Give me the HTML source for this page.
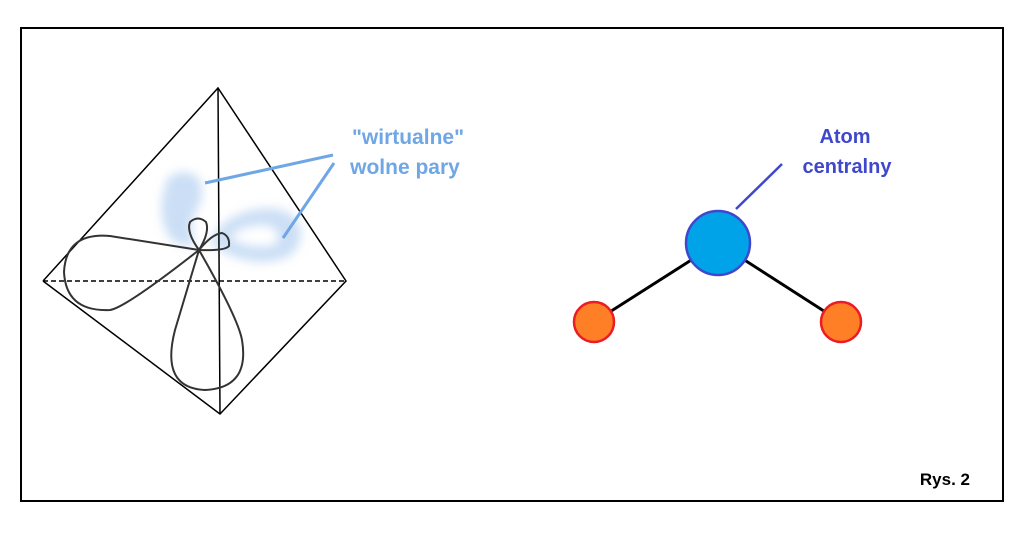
<!DOCTYPE html>
<html><head><meta charset="utf-8"><style>
html,body{margin:0;padding:0;background:#fff;}
svg{display:block;}
text{font-family:"Liberation Sans","DejaVu Sans",sans-serif;font-weight:bold;}
</style></head><body>
<svg width="1024" height="542" viewBox="0 0 1024 542" xmlns="http://www.w3.org/2000/svg">
<defs>
<filter id="blur" x="-50%" y="-50%" width="200%" height="200%"><feGaussianBlur stdDeviation="5"/></filter>
</defs>
<rect x="21" y="28" width="982" height="473" fill="#fff" stroke="#000" stroke-width="2"/>
<g filter="url(#blur)" fill="#a9c9ef" opacity="0.6">
<path d="M168 178 Q185 165 200 180 Q205 200 195 212 Q188 228 195 245 Q180 250 168 235 Q155 210 168 178 Z"/>
<path d="M210 242 Q225 210 270 208 Q305 212 300 240 Q295 262 260 262 Q230 260 210 242 Z M230 238 Q250 250 275 245 Q285 230 265 225 Q240 225 230 238 Z" fill-rule="evenodd"/>
</g>
<g stroke="#000" stroke-width="1.5" fill="none">
<polyline points="43,281 218,88 346,281 220,414 43,281"/>
<line x1="218" y1="88" x2="220" y2="414"/>
<line x1="43" y1="281" x2="346" y2="281" stroke-dasharray="5,3"/>
</g>
<g stroke="#333" stroke-width="2" fill="none">
<path d="M199 250 L110 236 Q66 232 64 272 Q66 312 110 310 Q125 308 199 250 Z"/>
<path d="M199 250 L175 330 Q160 388 205 390 Q250 388 242 340 Q238 318 199 250 Z"/>
<path d="M199 250 Q186 232 190 222 Q198 215 206 222 Q210 232 199 250 Z"/>
<path d="M199 250 Q212 234 222 233 Q230 236 229 246 Q225 251 199 250 Z"/>
</g>
<g stroke="#6fa6e6" stroke-width="3">
<line x1="205" y1="183" x2="333" y2="155"/>
<line x1="334" y1="163" x2="283" y2="238"/>
</g>
<text x="408" y="144" font-size="21" fill="#6fa6e6" text-anchor="middle">"wirtualne"</text>
<text x="405" y="174" font-size="21" fill="#6fa6e6" text-anchor="middle">wolne pary</text>
<g stroke="#000" stroke-width="3">
<line x1="594" y1="322" x2="718" y2="243"/>
<line x1="841" y1="322" x2="718" y2="243"/>
</g>
<line x1="736" y1="209" x2="782" y2="164" stroke="#3f48cc" stroke-width="2.5"/>
<circle cx="718" cy="243" r="32" fill="#00a2e8" stroke="#3f48cc" stroke-width="2.5"/>
<circle cx="594" cy="322" r="20" fill="#ff7f27" stroke="#ed1c24" stroke-width="2.5"/>
<circle cx="841" cy="322" r="20" fill="#ff7f27" stroke="#ed1c24" stroke-width="2.5"/>
<text x="845" y="143" font-size="20" fill="#3f48cc" text-anchor="middle">Atom</text>
<text x="847" y="173" font-size="20" fill="#3f48cc" text-anchor="middle">centralny</text>
<text x="970" y="485" font-size="17" fill="#000" text-anchor="end">Rys. 2</text>
</svg>
</body></html>
